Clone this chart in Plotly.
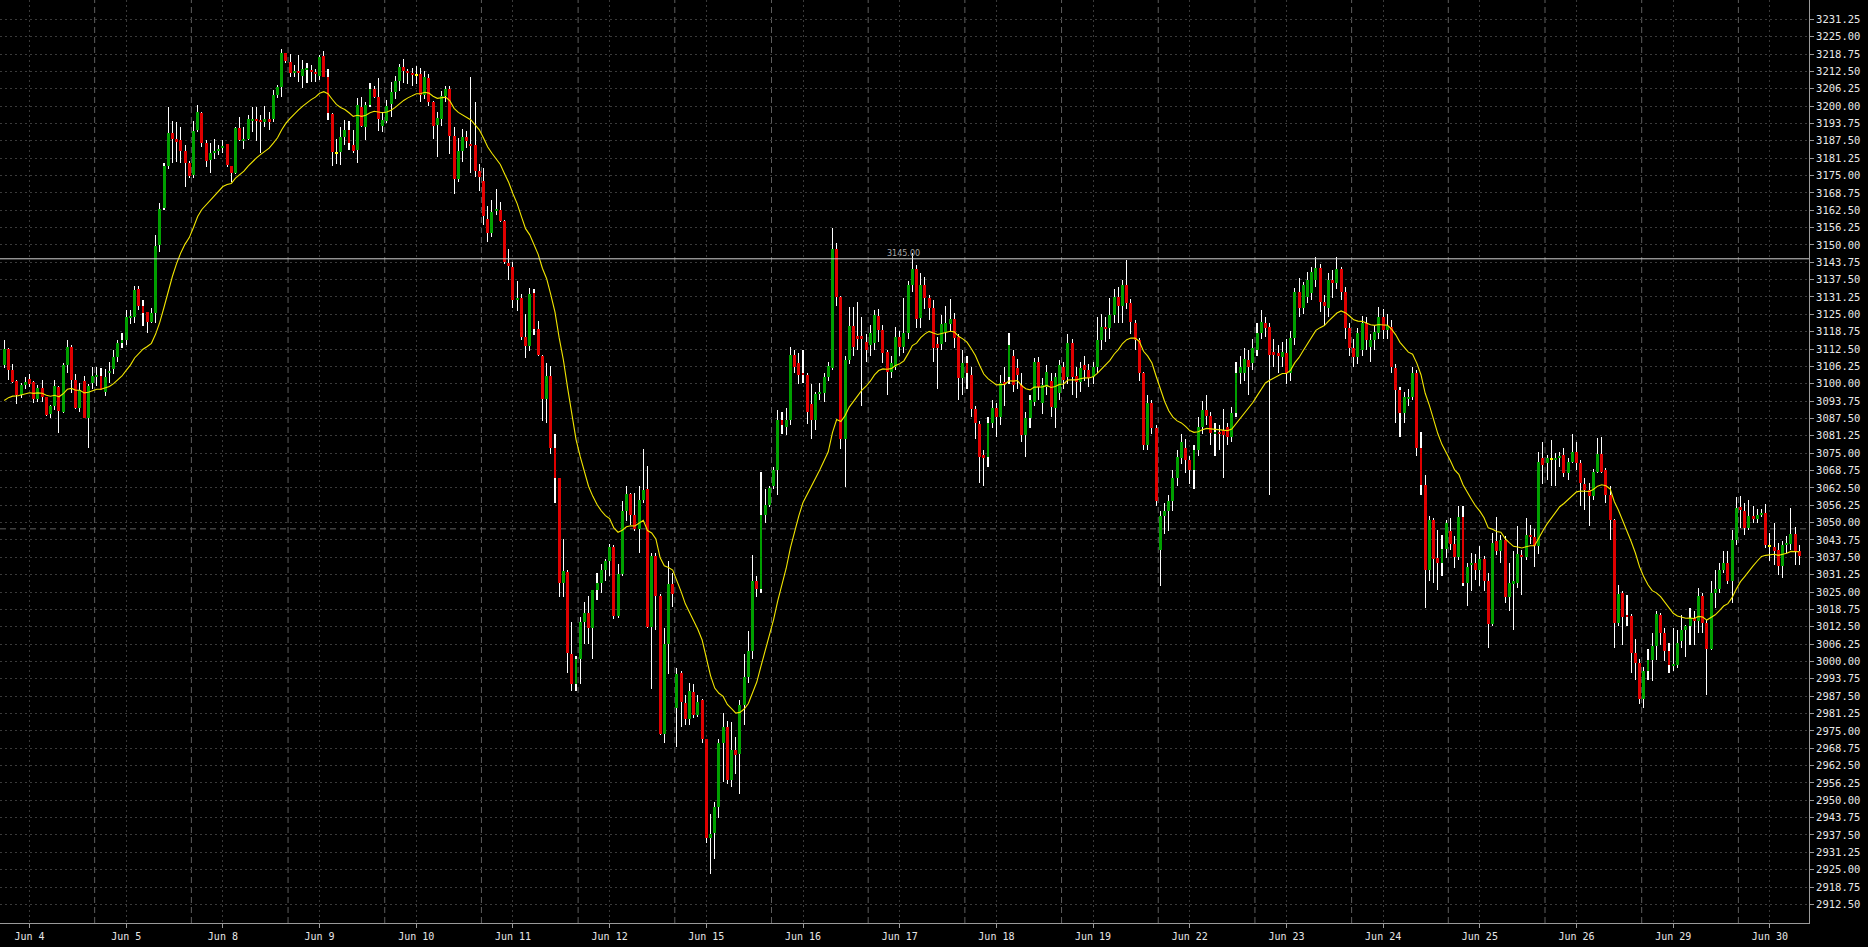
import plotly.graph_objects as go

# ---------------- data (hourly bars) ----------------
opens = [
    3106.8, 3112.6, 3105.0, 3101.0, 3096.0, 3099.6, 3101.8, 3100.6, 3094.6, 3098.4,
    3095.2, 3089.0, 3092.0, 3098.8, 3090.0, 3106.8, 3113.3, 3101.4, 3091.3, 3101.0,
    3087.7, 3100.2, 3102.6, 3102.8, 3097.2, 3104.0, 3105.4, 3109.8, 3114.8, 3115.8,
    3124.0, 3124.2, 3134.0, 3128.0, 3125.8, 3122.4, 3125.4, 3150.0, 3163.4, 3178.4,
    3190.2, 3188.0, 3187.8, 3184.0, 3179.6, 3175.0, 3191.4, 3197.6, 3186.6, 3180.6,
    3183.2, 3183.8, 3184.8, 3186.2, 3178.4, 3175.8, 3192.2, 3187.6, 3188.0, 3195.0,
    3195.2, 3194.8, 3194.4, 3195.2, 3195.2, 3204.0, 3206.8, 3219.0, 3216.0, 3212.0,
    3212.6, 3211.0, 3213.2, 3213.0, 3212.2, 3211.0, 3218.0, 3210.6, 3197.2, 3183.2,
    3183.6, 3189.0, 3191.4, 3186.0, 3184.2, 3199.6, 3192.6, 3200.4, 3206.0, 3203.4,
    3192.8, 3194.6, 3200.8, 3205.1, 3209.0, 3214.1, 3212.6, 3211.8, 3211.3, 3211.5,
    3204.0, 3210.2, 3201.6, 3193.1, 3195.4, 3203.7, 3206.2, 3189.2, 3173.6, 3184.0,
    3188.7, 3186.5, 3186.0, 3176.7, 3173.1, 3159.3, 3154.3, 3162.4, 3162.5, 3158.7,
    3143.6, 3142.2, 3130.3, 3131.0, 3116.9, 3113.7, 3132.8, 3119.7, 3110.0, 3094.4,
    3102.8, 3076.8, 3065.9, 3028.4, 3032.3, 3002.8, 2991.9, 3000.9, 3014.2, 3017.5,
    3012.1, 3025.6, 3028.4, 3033.0, 3036.0, 3041.2, 3016.3, 3031.6, 3054.1, 3060.2,
    3052.6, 3047.6, 3058.3, 3062.2, 3012.4, 3038.0, 3023.5, 2973.9, 3006.1, 3028.0,
    2983.3, 2995.7, 2985.0, 2979.1, 2989.0, 2980.8, 2986.2, 2972.0, 2936.3, 2938.1,
    2947.7, 2970.8, 2976.5, 2957.3, 2968.2, 2966.5, 2984.3, 2994.3, 3003.8, 3028.9,
    3026.0, 3052.6, 3056.2, 3063.0, 3069.0, 3087.0, 3084.6, 3087.0, 3110.4, 3107.4,
    3103.8, 3103.0, 3092.8, 3087.0, 3096.4, 3096.6, 3102.6, 3105.6, 3148.4, 3131.4,
    3080.0, 3108.6, 3120.8, 3117.2, 3117.2, 3115.0, 3114.0, 3114.6, 3124.4, 3119.4,
    3111.6, 3104.4, 3106.2, 3117.0, 3113.4, 3118.2, 3135.6, 3141.2, 3123.6, 3135.6,
    3131.0, 3127.2, 3114.4, 3114.4, 3118.8, 3121.6, 3123.2, 3117.0, 3102.0, 3107.4,
    3103.2, 3090.8, 3085.6, 3074.4, 3073.8, 3086.0, 3091.2, 3088.2, 3100.4, 3102.6,
    3110.0, 3105.6, 3099.6, 3081.6, 3087.6, 3093.6, 3108.0, 3093.0, 3099.0, 3101.0,
    3091.2, 3096.6, 3106.2, 3102.6, 3114.8, 3102.8, 3100.8, 3106.8, 3105.0, 3102.6,
    3106.2, 3115.8, 3120.6, 3120.0, 3124.8, 3131.4, 3128.0, 3135.6, 3129.0, 3122.0,
    3115.8, 3103.8, 3078.0, 3093.0, 3084.0, 3040.2, 3052.2, 3054.0, 3057.6, 3066.0,
    3073.2, 3077.0, 3072.6, 3069.0, 3076.2, 3084.6, 3090.6, 3088.4, 3082.2, 3082.8,
    3083.4, 3084.6, 3081.0, 3089.4, 3103.8, 3103.8, 3108.6, 3107.4, 3112.2, 3118.2,
    3121.8, 3120.6, 3111.6, 3111.2, 3109.8, 3111.0, 3103.8, 3116.4, 3133.2, 3127.2,
    3131.4, 3132.6, 3137.4, 3141.6, 3129.6, 3127.2, 3137.4, 3136.2, 3141.2, 3133.2,
    3120.0, 3112.8, 3109.8, 3112.2, 3121.8, 3113.4, 3115.8, 3118.2, 3124.2, 3119.4,
    3120.6, 3105.6, 3097.8, 3089.4, 3094.8, 3095.4, 3103.8, 3076.8, 3063.6, 3033.0,
    3051.0, 3037.2, 3035.6, 3040.4, 3046.8, 3042.4, 3037.6, 3052.0, 3028.4, 3034.8,
    3035.4, 3032.8, 3036.8, 3028.8, 3013.6, 3043.2, 3039.6, 3043.8, 3023.2, 3028.2,
    3028.4, 3038.4, 3037.6, 3045.6, 3044.8, 3041.6, 3073.2, 3071.4, 3072.8, 3072.8,
    3073.2, 3074.4, 3068.0, 3072.0, 3075.6, 3071.6, 3064.0, 3061.8, 3059.4, 3068.4,
    3074.8, 3069.0, 3060.0, 3051.0, 3014.0, 3024.6, 3016.4, 3016.4, 3003.2, 2999.6,
    2986.4, 2996.4, 3000.4, 3005.4, 3016.8, 3010.4, 3003.6, 2998.4, 2998.8, 3007.2,
    3011.4, 3012.6, 3015.6, 3014.4, 3023.4, 3014.0, 3004.4, 3024.6, 3026.0, 3033.0,
    3035.4, 3028.8, 3043.6, 3055.6, 3054.0, 3048.0, 3052.4, 3051.2, 3052.8, 3053.4,
    3041.4, 3041.2, 3040.0, 3034.2, 3042.0, 3042.4, 3046.0, 3039.6,
]
highs = [
    3115.8, 3113.0, 3107.2, 3101.4, 3100.2, 3102.4, 3103.6, 3101.0, 3099.6, 3101.2,
    3095.4, 3092.4, 3101.4, 3099.2, 3107.6, 3115.8, 3114.0, 3103.6, 3100.4, 3102.8,
    3100.0, 3106.2, 3106.2, 3105.6, 3105.2, 3108.0, 3112.0, 3115.8, 3118.2, 3126.6,
    3126.6, 3135.2, 3135.2, 3130.2, 3126.0, 3127.2, 3153.6, 3165.0, 3179.4, 3199.6,
    3194.8, 3194.4, 3192.6, 3186.0, 3180.4, 3194.8, 3200.4, 3198.0, 3187.8, 3186.6,
    3188.0, 3186.0, 3187.8, 3186.4, 3178.6, 3192.4, 3196.0, 3192.6, 3196.8, 3199.8,
    3199.8, 3196.8, 3200.0, 3198.0, 3205.8, 3207.6, 3220.6, 3219.2, 3218.8, 3214.8,
    3218.4, 3216.6, 3215.4, 3214.8, 3213.2, 3218.4, 3220.0, 3213.2, 3197.6, 3188.0,
    3192.6, 3195.0, 3194.8, 3191.4, 3202.8, 3203.4, 3201.6, 3208.4, 3207.2, 3210.0,
    3197.7, 3202.1, 3208.7, 3211.0, 3215.2, 3216.8, 3213.3, 3213.7, 3214.6, 3213.7,
    3212.6, 3211.5, 3202.0, 3198.0, 3205.5, 3207.4, 3207.4, 3192.3, 3188.4, 3191.8,
    3191.2, 3210.5, 3201.6, 3179.3, 3177.8, 3164.0, 3166.2, 3170.1, 3165.3, 3158.9,
    3148.6, 3143.7, 3136.9, 3132.5, 3125.2, 3134.5, 3134.0, 3122.5, 3110.5, 3107.5,
    3106.4, 3081.8, 3066.2, 3044.2, 3032.8, 3014.2, 3002.0, 3016.0, 3021.3, 3023.5,
    3025.8, 3031.7, 3035.1, 3037.0, 3042.2, 3042.0, 3035.0, 3057.6, 3063.3, 3060.7,
    3060.7, 3063.3, 3076.4, 3070.4, 3039.1, 3039.1, 3024.2, 3012.0, 3036.3, 3032.0,
    2997.8, 2996.7, 2987.9, 2992.1, 2991.8, 2987.9, 2986.5, 2972.2, 2945.2, 2949.4,
    2972.0, 2981.5, 2978.6, 2978.2, 2972.9, 2986.2, 3002.8, 3010.9, 3038.4, 3030.9,
    3068.3, 3062.0, 3063.3, 3070.0, 3090.6, 3090.0, 3091.4, 3113.4, 3112.2, 3111.0,
    3112.0, 3104.0, 3100.0, 3097.2, 3100.4, 3103.8, 3108.0, 3156.0, 3150.6, 3131.6,
    3110.0, 3127.6, 3127.6, 3129.6, 3124.0, 3118.0, 3121.0, 3126.6, 3127.0, 3121.0,
    3112.0, 3110.0, 3120.6, 3119.0, 3130.8, 3137.0, 3147.0, 3142.8, 3139.8, 3138.6,
    3132.0, 3130.0, 3117.0, 3124.8, 3128.0, 3130.4, 3125.6, 3118.0, 3112.0, 3110.0,
    3106.0, 3092.0, 3086.6, 3076.0, 3088.0, 3094.2, 3093.0, 3103.0, 3106.0, 3118.2,
    3112.0, 3109.0, 3104.0, 3090.0, 3096.0, 3109.2, 3109.8, 3102.0, 3106.8, 3104.0,
    3104.0, 3108.6, 3108.0, 3118.0, 3116.0, 3106.0, 3108.0, 3110.0, 3107.0, 3108.0,
    3124.2, 3125.0, 3124.0, 3130.8, 3134.0, 3135.0, 3137.4, 3144.6, 3130.4, 3123.0,
    3116.4, 3104.4, 3096.0, 3094.0, 3085.0, 3054.0, 3057.0, 3060.0, 3069.0, 3076.0,
    3082.0, 3080.0, 3074.0, 3078.0, 3088.0, 3093.8, 3096.0, 3090.0, 3086.0, 3085.0,
    3091.0, 3086.0, 3091.8, 3108.0, 3110.0, 3113.0, 3112.0, 3116.0, 3122.0, 3126.6,
    3124.0, 3122.0, 3116.0, 3114.0, 3115.0, 3116.0, 3119.0, 3134.4, 3138.0, 3136.8,
    3140.4, 3142.0, 3145.5, 3143.0, 3132.0, 3140.0, 3141.0, 3145.6, 3142.0, 3135.0,
    3122.0, 3116.0, 3120.0, 3124.4, 3124.0, 3118.0, 3121.0, 3127.6, 3127.0, 3125.0,
    3123.0, 3107.0, 3099.0, 3097.0, 3098.0, 3106.0, 3105.0, 3082.8, 3067.2, 3052.2,
    3051.6, 3047.2, 3045.6, 3051.0, 3051.6, 3045.0, 3055.8, 3056.0, 3035.4, 3039.0,
    3038.8, 3041.4, 3038.0, 3031.8, 3046.2, 3052.0, 3045.6, 3045.0, 3035.6, 3039.6,
    3048.6, 3040.2, 3051.6, 3049.2, 3047.6, 3075.6, 3079.2, 3074.4, 3079.8, 3075.0,
    3075.6, 3076.8, 3073.2, 3082.0, 3079.2, 3072.6, 3066.0, 3064.2, 3069.2, 3080.4,
    3081.0, 3069.6, 3063.2, 3051.2, 3027.6, 3025.2, 3024.0, 3017.0, 3008.0, 3001.0,
    2998.0, 3004.4, 3010.2, 3018.0, 3017.4, 3012.0, 3006.8, 3012.0, 3011.4, 3016.8,
    3013.2, 3019.2, 3018.0, 3026.4, 3024.6, 3015.0, 3028.8, 3033.0, 3035.4, 3039.6,
    3039.6, 3047.2, 3059.2, 3059.4, 3057.2, 3058.2, 3055.8, 3054.8, 3054.8, 3056.8,
    3046.2, 3049.8, 3042.6, 3043.2, 3045.0, 3055.2, 3048.4, 3042.0,
]
lows = [
    3105.6, 3101.2, 3100.2, 3092.8, 3094.7, 3098.0, 3098.8, 3093.0, 3093.6, 3093.6,
    3088.5, 3087.7, 3090.6, 3082.4, 3089.6, 3104.0, 3096.6, 3091.0, 3089.9, 3087.5,
    3076.7, 3098.0, 3099.2, 3097.6, 3095.6, 3100.2, 3103.6, 3107.9, 3112.8, 3114.0,
    3121.6, 3121.8, 3126.6, 3120.8, 3118.2, 3122.0, 3122.0, 3147.6, 3162.6, 3177.2,
    3179.6, 3180.0, 3179.6, 3170.8, 3174.0, 3174.0, 3190.8, 3185.2, 3178.0, 3176.0,
    3180.8, 3182.4, 3183.0, 3178.0, 3172.8, 3175.6, 3187.6, 3184.6, 3187.8, 3190.8,
    3187.6, 3183.2, 3192.4, 3191.4, 3194.4, 3202.8, 3203.2, 3215.4, 3210.6, 3210.6,
    3208.8, 3206.4, 3208.2, 3208.8, 3208.8, 3209.4, 3210.4, 3195.0, 3178.4, 3179.0,
    3178.8, 3186.0, 3184.2, 3183.0, 3179.6, 3192.6, 3187.8, 3199.8, 3203.0, 3191.2,
    3190.7, 3193.8, 3196.2, 3202.4, 3205.5, 3208.4, 3207.9, 3207.1, 3207.9, 3201.6,
    3202.4, 3200.1, 3188.1, 3181.8, 3192.7, 3201.6, 3182.9, 3168.4, 3172.5, 3180.0,
    3185.0, 3175.9, 3174.6, 3169.3, 3157.2, 3151.2, 3152.8, 3160.6, 3158.4, 3143.1,
    3137.2, 3127.2, 3126.3, 3115.8, 3109.1, 3111.9, 3117.4, 3110.0, 3086.6, 3085.7,
    3074.7, 3056.9, 3023.2, 3023.2, 2995.7, 2989.3, 2989.3, 2992.0, 3006.1, 3006.4,
    3000.9, 3022.0, 3024.6, 3028.9, 3030.6, 3015.2, 3015.5, 3030.6, 3050.5, 3049.1,
    3046.9, 3039.1, 3056.9, 3012.1, 2990.0, 3011.4, 2973.6, 2970.5, 2995.3, 3019.5,
    2969.1, 2976.5, 2977.2, 2977.2, 2979.5, 2980.0, 2970.5, 2934.5, 2923.5, 2928.8,
    2943.5, 2956.6, 2955.9, 2954.9, 2959.4, 2952.3, 2977.2, 2992.4, 3000.9, 3023.2,
    3024.5, 3050.0, 3055.5, 3062.0, 3060.0, 3082.0, 3081.6, 3085.0, 3104.0, 3100.0,
    3100.2, 3085.6, 3080.0, 3083.4, 3094.0, 3093.6, 3101.0, 3105.0, 3128.0, 3076.4,
    3062.8, 3107.0, 3110.0, 3112.2, 3092.0, 3108.0, 3110.0, 3112.0, 3115.0, 3107.6,
    3096.0, 3102.0, 3105.0, 3110.0, 3111.0, 3116.0, 3133.0, 3120.0, 3120.0, 3127.0,
    3123.0, 3108.0, 3098.0, 3112.0, 3115.0, 3119.0, 3113.0, 3094.2, 3096.0, 3098.0,
    3088.0, 3080.0, 3064.2, 3063.0, 3070.0, 3084.0, 3081.0, 3085.0, 3092.0, 3100.0,
    3097.0, 3098.0, 3079.0, 3073.8, 3084.0, 3092.0, 3094.0, 3089.0, 3096.0, 3088.0,
    3084.0, 3094.0, 3098.0, 3100.0, 3096.0, 3095.0, 3097.0, 3101.0, 3099.0, 3100.0,
    3104.0, 3112.0, 3115.0, 3116.0, 3122.0, 3122.0, 3122.0, 3127.0, 3118.0, 3112.0,
    3101.0, 3076.0, 3076.0, 3082.0, 3056.0, 3027.0, 3046.0, 3047.0, 3054.0, 3063.0,
    3071.0, 3068.0, 3064.0, 3062.0, 3074.0, 3082.0, 3085.0, 3078.0, 3074.0, 3076.0,
    3066.2, 3078.0, 3079.0, 3088.0, 3100.0, 3101.0, 3096.0, 3105.0, 3110.0, 3116.0,
    3117.0, 3060.0, 3106.0, 3104.0, 3106.0, 3100.0, 3101.0, 3114.0, 3124.0, 3125.0,
    3129.0, 3130.0, 3135.0, 3126.0, 3121.0, 3124.0, 3131.0, 3134.0, 3130.0, 3116.0,
    3110.0, 3106.0, 3107.0, 3110.0, 3112.0, 3108.0, 3112.0, 3116.0, 3116.0, 3116.0,
    3104.0, 3086.0, 3081.0, 3086.0, 3092.0, 3094.0, 3074.0, 3060.0, 3019.2, 3028.8,
    3028.2, 3025.8, 3030.6, 3037.2, 3040.0, 3033.6, 3036.6, 3027.2, 3019.8, 3025.2,
    3029.4, 3027.2, 3025.2, 3004.8, 3012.6, 3038.4, 3035.4, 3021.2, 3018.0, 3011.4,
    3026.4, 3024.0, 3036.6, 3042.4, 3034.0, 3038.8, 3064.0, 3065.4, 3063.0, 3063.0,
    3070.2, 3066.4, 3065.4, 3071.6, 3069.0, 3056.0, 3054.6, 3048.6, 3058.0, 3068.0,
    3068.0, 3057.0, 3043.8, 3004.8, 3012.6, 3006.0, 3012.6, 2996.0, 2993.4, 2984.5,
    2983.2, 2993.4, 2992.8, 3000.6, 3006.0, 3000.0, 2995.8, 2996.4, 2997.6, 3004.8,
    3001.6, 3006.0, 3006.0, 3010.4, 3010.2, 2988.0, 3004.0, 3019.2, 3024.6, 3031.8,
    3028.0, 3021.0, 3042.0, 3048.0, 3045.6, 3047.2, 3049.8, 3049.8, 3052.0, 3040.8,
    3036.0, 3034.8, 3031.2, 3030.0, 3039.0, 3040.2, 3034.8, 3034.8,
]
closes = [
    3112.6, 3104.8, 3100.8, 3096.0, 3099.6, 3100.6, 3100.0, 3094.6, 3098.4, 3095.4,
    3088.8, 3092.0, 3099.2, 3090.2, 3106.6, 3113.3, 3101.4, 3091.3, 3097.8, 3087.7,
    3099.2, 3102.8, 3103.0, 3097.8, 3102.5, 3104.4, 3109.7, 3114.8, 3115.8, 3124.2,
    3124.4, 3133.8, 3128.0, 3125.6, 3122.4, 3125.6, 3149.6, 3162.8, 3178.6, 3190.2,
    3188.0, 3187.4, 3184.0, 3179.6, 3174.8, 3191.0, 3198.0, 3186.6, 3180.4, 3183.2,
    3183.6, 3184.6, 3185.6, 3178.8, 3175.8, 3192.2, 3187.8, 3188.0, 3195.2, 3195.2,
    3194.8, 3194.4, 3195.2, 3194.6, 3204.0, 3206.8, 3219.0, 3216.4, 3212.0, 3212.6,
    3212.0, 3213.2, 3213.6, 3212.2, 3211.6, 3217.8, 3210.6, 3197.4, 3183.6, 3183.2,
    3189.0, 3191.4, 3186.6, 3184.0, 3200.4, 3192.8, 3200.4, 3206.0, 3203.4, 3195.4,
    3194.9, 3200.1, 3205.1, 3209.0, 3214.1, 3212.6, 3211.8, 3211.2, 3211.3, 3204.0,
    3210.5, 3201.6, 3192.7, 3195.7, 3203.7, 3206.3, 3189.2, 3173.6, 3184.0, 3188.7,
    3187.6, 3185.7, 3176.7, 3174.3, 3160.3, 3154.3, 3161.8, 3163.0, 3158.7, 3143.9,
    3142.3, 3130.3, 3130.9, 3116.9, 3113.7, 3132.5, 3119.7, 3110.3, 3094.4, 3102.8,
    3076.8, 3065.9, 3028.4, 3032.6, 3003.2, 2991.9, 3000.7, 3014.2, 3017.5, 3012.1,
    3025.6, 3028.4, 3033.0, 3036.0, 3041.2, 3016.3, 3031.6, 3054.1, 3060.2, 3052.6,
    3047.6, 3058.3, 3061.6, 3012.4, 3038.0, 3023.5, 2973.9, 3006.1, 3028.0, 3024.2,
    2995.3, 2985.3, 2979.1, 2989.3, 2980.8, 2985.3, 2972.0, 2936.3, 2937.8, 2947.7,
    2970.8, 2976.5, 2957.3, 2968.2, 2966.2, 2984.3, 2994.3, 3003.8, 3028.9, 3026.0,
    3052.6, 3056.2, 3062.6, 3069.0, 3087.0, 3085.0, 3087.0, 3110.4, 3106.2, 3103.2,
    3103.0, 3090.0, 3087.0, 3096.4, 3096.8, 3102.6, 3106.4, 3148.4, 3131.4, 3080.0,
    3108.6, 3120.8, 3113.4, 3116.0, 3116.0, 3112.2, 3118.2, 3124.8, 3119.4, 3111.0,
    3104.4, 3107.4, 3117.0, 3113.2, 3118.2, 3135.6, 3141.2, 3123.2, 3135.6, 3130.8,
    3127.2, 3112.8, 3112.8, 3121.6, 3121.8, 3123.2, 3116.4, 3102.0, 3107.4, 3103.8,
    3090.8, 3086.0, 3073.8, 3073.2, 3086.0, 3091.2, 3088.2, 3100.4, 3100.0, 3114.0,
    3099.6, 3103.2, 3081.6, 3087.6, 3094.2, 3108.0, 3099.0, 3099.6, 3104.4, 3091.6,
    3102.6, 3106.8, 3101.4, 3114.8, 3102.6, 3100.8, 3105.6, 3105.0, 3102.0, 3106.2,
    3115.8, 3120.6, 3119.6, 3124.8, 3131.4, 3128.0, 3135.6, 3129.0, 3122.4, 3115.8,
    3103.8, 3078.0, 3093.2, 3084.0, 3057.6, 3052.2, 3054.0, 3057.6, 3066.0, 3073.8,
    3079.2, 3072.6, 3069.0, 3076.2, 3084.6, 3090.6, 3088.4, 3082.2, 3082.8, 3082.2,
    3081.6, 3081.0, 3089.4, 3103.8, 3106.2, 3108.8, 3106.2, 3112.8, 3118.4, 3122.4,
    3120.0, 3110.4, 3110.4, 3110.0, 3111.6, 3103.8, 3116.4, 3133.2, 3127.2, 3135.6,
    3137.4, 3140.4, 3141.6, 3129.6, 3128.0, 3137.4, 3136.2, 3141.2, 3133.2, 3120.0,
    3112.8, 3109.8, 3118.2, 3121.8, 3115.8, 3115.8, 3118.8, 3124.2, 3119.4, 3120.8,
    3106.2, 3097.8, 3089.4, 3095.4, 3095.4, 3103.8, 3076.8, 3063.6, 3033.0, 3051.0,
    3036.8, 3035.6, 3040.4, 3050.0, 3042.4, 3037.6, 3052.0, 3028.4, 3034.0, 3035.4,
    3032.8, 3036.8, 3028.8, 3013.6, 3042.6, 3039.6, 3043.8, 3023.2, 3028.4, 3028.8,
    3038.8, 3037.6, 3045.6, 3044.8, 3041.6, 3072.0, 3070.8, 3073.2, 3072.8, 3073.2,
    3074.0, 3068.0, 3072.0, 3075.6, 3071.6, 3064.4, 3061.6, 3059.4, 3068.4, 3074.8,
    3068.4, 3060.0, 3051.0, 3014.0, 3024.4, 3016.0, 3016.0, 3003.2, 2999.6, 2986.4,
    2996.4, 3000.4, 3005.4, 3017.2, 3010.4, 3003.6, 2998.8, 2998.8, 3006.8, 3011.4,
    3012.8, 3015.6, 3014.4, 3023.4, 3013.8, 3004.4, 3024.6, 3026.0, 3033.0, 3035.4,
    3028.8, 3043.6, 3055.2, 3054.4, 3048.0, 3052.4, 3051.2, 3052.8, 3053.4, 3042.0,
    3041.4, 3039.6, 3034.4, 3042.0, 3042.6, 3046.0, 3039.6, 3038.0,
]

day_labels = ["Jun 4", "Jun 5", "Jun 8", "Jun 9", "Jun 10", "Jun 11", "Jun 12",
              "Jun 15", "Jun 16", "Jun 17", "Jun 18", "Jun 19", "Jun 22", "Jun 23",
              "Jun 24", "Jun 25", "Jun 26", "Jun 29", "Jun 30"]
day_label_bars = [6, 29, 52, 75, 98, 121, 144, 167, 190, 213, 236, 259, 282,
                  305, 328, 351, 374, 397, 420]
day_separator_offset = 7.5

price_ticks = [2912.50, 2918.75, 2925.00, 2931.25, 2937.50, 2943.75, 2950.00, 2956.25,
               2962.50, 2968.75, 2975.00, 2981.25, 2987.50, 2993.75, 3000.00, 3006.25,
               3012.50, 3018.75, 3025.00, 3031.25, 3037.50, 3043.75, 3050.00, 3056.25,
               3062.50, 3068.75, 3075.00, 3081.25, 3087.50, 3093.75, 3100.00, 3106.25,
               3112.50, 3118.75, 3125.00, 3131.25, 3137.50, 3143.75, 3150.00, 3156.25,
               3162.50, 3168.75, 3175.00, 3181.25, 3187.50, 3193.75, 3200.00, 3206.25,
               3212.50, 3218.75, 3225.00, 3231.25]

level_price = 3145.00
level_text = "3145.00"
level_text_bar = 214
ref_line_price = 3047.75

ema_period = 20
ema_seed = 3092.0   # indicator value at the left edge

# ---------------- styling ----------------
BG = "#000000"
GRID = "#3a3a3a"
SEP = "#5e5e5e"
AXIS = "#9a9a9a"
UP = "#00a000"
DOWN = "#e00000"
DOJI = "#ffff00"
WICK = "#ffffff"
MA_COLOR = "#f2e600"
TXT = "#e8e8e8"

n = len(closes)
xs = list(range(n))

# wicks: very thin opaque bars, which plotly expands to exactly one pixel
wick_base = lows
wick_len = [h - l for h, l in zip(highs, lows)]

body_base, body_h, body_col = [], [], []
min_h = 0.36
for o, c in zip(opens, closes):
    lo, hi = min(o, c), max(o, c)
    h = hi - lo
    if h < min_h:
        body_base.append((lo + hi) / 2 - min_h / 2)
        body_h.append(min_h)
    else:
        body_base.append(lo)
        body_h.append(h)
    body_col.append(UP if c > o else (DOWN if c < o else DOJI))

alpha = 2.0 / (ema_period + 1)
ema = []
prev = ema_seed
for c in closes:
    prev = prev + alpha * (c - prev)
    ema.append(prev)

fig = go.Figure()
fig.add_trace(go.Bar(x=xs, y=wick_len, base=wick_base, width=0.02,
                     marker=dict(color=WICK, line=dict(width=0)),
                     hoverinfo="skip"))
fig.add_trace(go.Bar(x=xs, y=body_h, base=body_base, width=0.7,
                     marker=dict(color=body_col, line=dict(width=0)),
                     hoverinfo="skip"))
fig.add_trace(go.Scatter(x=xs, y=ema, mode="lines",
                         line=dict(color=MA_COLOR, width=1.1), hoverinfo="skip"))

shapes = []
for b in day_label_bars:
    shapes.append(dict(type="line", xref="x", yref="paper",
                       x0=b - day_separator_offset, x1=b - day_separator_offset,
                       y0=0, y1=1, layer="below",
                       line=dict(color=SEP, width=1, dash="6px,4px")))
shapes.append(dict(type="line", xref="paper", yref="y", x0=0, x1=1,
                   y0=ref_line_price, y1=ref_line_price, layer="below",
                   line=dict(color=SEP, width=1, dash="6px,4px")))
shapes.append(dict(type="line", xref="paper", yref="y", x0=0, x1=1,
                   y0=level_price, y1=level_price, layer="above",
                   line=dict(color="#d0d0d0", width=1)))

fig.update_layout(
    width=1868, height=947,
    margin=dict(l=0, r=59, t=0, b=24),
    paper_bgcolor=BG, plot_bgcolor=BG,
    showlegend=False, barmode="overlay", bargap=0, bargroupgap=0,
    shapes=shapes,
    annotations=[dict(x=level_text_bar, y=level_price, xref="x", yref="y",
                      text=level_text, showarrow=False, yanchor="bottom",
                      yshift=-1,
                      font=dict(family="DejaVu Sans", size=8, color="#a8a8a8"))],
    xaxis=dict(range=[-1.02, 429.3], tickmode="array", tickvals=day_label_bars,
               ticktext=day_labels, showgrid=True, gridcolor=GRID, griddash="2px,3px",
               gridwidth=1, ticks="outside", ticklen=4, tickcolor=AXIS,
               showline=True, linecolor=AXIS, linewidth=1, zeroline=False,
               tickfont=dict(family="DejaVu Sans Mono", size=10, color=TXT)),
    yaxis=dict(side="right", range=[2905.8, 3238.2], tickmode="array",
               tickvals=price_ticks, ticktext=[f"{v:.2f}" for v in price_ticks],
               showgrid=True, gridcolor=GRID, griddash="2px,3px", gridwidth=1,
               ticks="outside", ticklen=4, tickcolor=AXIS,
               showline=True, linecolor=AXIS, linewidth=1, zeroline=False,
               tickfont=dict(family="DejaVu Sans Mono", size=10.5, color=TXT)),
)

fig.write_html(
    "out.html",
    config={"displayModeBar": False},
    post_script="document.body.style.margin='0';document.body.style.background='#000';",
)
